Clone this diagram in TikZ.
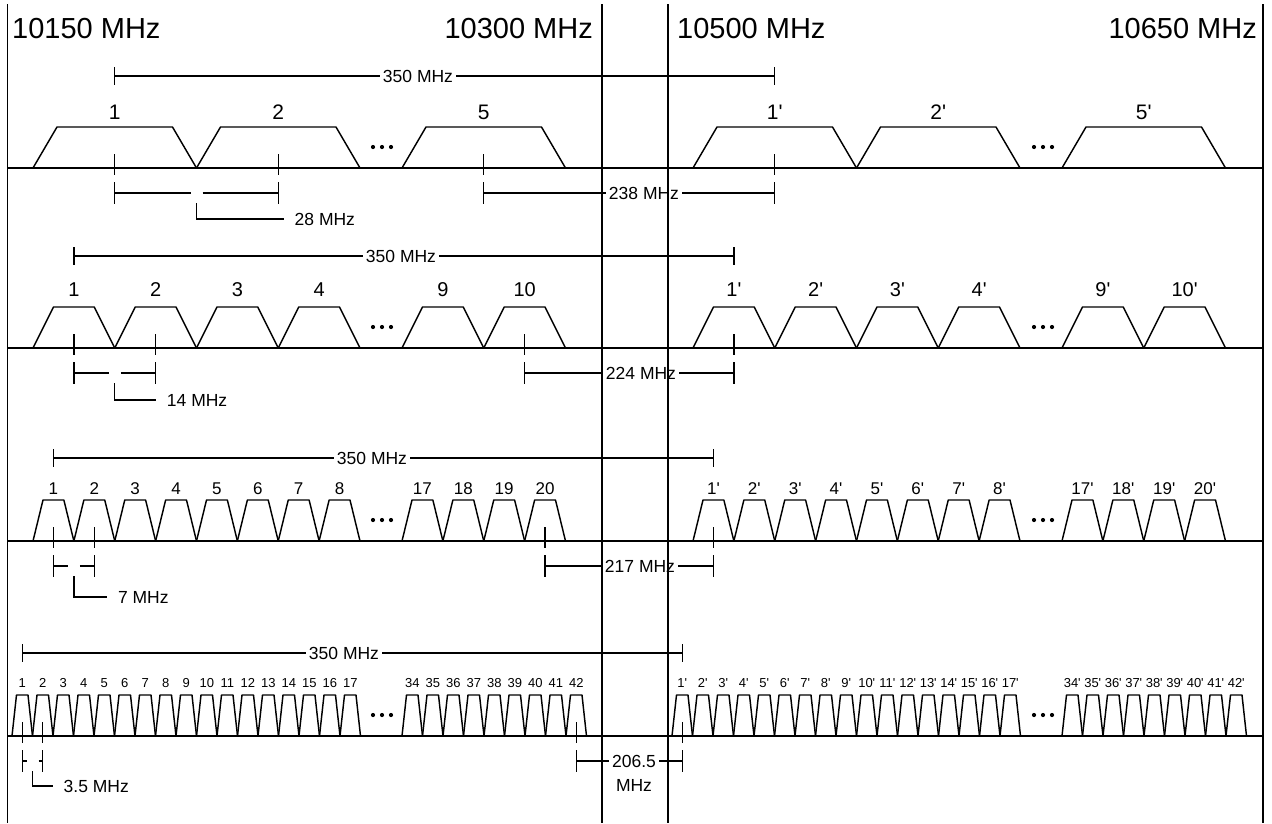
\documentclass[tikz,border=0pt]{standalone}
\usepackage{fontspec}
\setmainfont{Liberation Sans}
\newcommand\pr{\textquotesingle}
\tikzset{
  ln/.style={line width=1.45pt,black},
  chlab/.style={inner sep=0pt},
  dimlab/.style={font=\fontsize{17.5}{19}\selectfont, fill=white, inner sep=3pt},
  freqlab/.style={font=\fontsize{29}{32}\selectfont, inner sep=0pt},
  note/.style={font=\fontsize{17.5}{19}\selectfont, inner sep=0pt, anchor=west},
}
% one channel trapezoid: left x, pitch, inset, baseline
\newcommand\chan[4]{\draw[ln,line join=round] ({#1},{#4}) -- ({#1+#3},{#4-41}) -- ({#1+#2-#3},{#4-41}) -- ({#1+#2},{#4});}
% a band: B, x0, pitch, nA, nB, first label of group B, inset, label font size, label offset
\newcommand\band[9]{%
  \foreach \i in {1,...,#4}{
    \pgfmathsetmacro\l{#2+(\i-1)*#3}
    \pgfmathsetmacro\r{\l+660}
    \chan{\l}{#3}{#7}{#1}
    \chan{\r}{#3}{#7}{#1}
    \node[chlab,font=\fontsize{#8}{#8}\selectfont] (\bid-l\i) at ({\l+#3/2},{#1-#9}) {\i};
    \node[chlab,font=\fontsize{#8}{#8}\selectfont] (\bid-r\i) at ({\r+#3/2},{#1-#9}) {\i\pr};
  }
  \foreach \j in {1,...,#5}{
    \pgfmathsetmacro\l{402+(\j-1)*#3}
    \pgfmathsetmacro\r{\l+660}
    \pgfmathtruncatemacro\n{#6+\j-1}
    \chan{\l}{#3}{#7}{#1}
    \chan{\r}{#3}{#7}{#1}
    \node[chlab,font=\fontsize{#8}{#8}\selectfont] (\bid-bl\n) at ({\l+#3/2},{#1-#9}) {\n};
    \node[chlab,font=\fontsize{#8}{#8}\selectfont] (\bid-br\n) at ({\r+#3/2},{#1-#9}) {\n\pr};
  }
  \foreach \x in {382,1043}{
    \foreach \k in {-9,0,9}{
      \fill ({\x+\k},{#1-21}) circle[radius=2.1pt];
    }
  }
}
% dimensions: B, x0, pitch, nB, upper offset, 350 label x, L label y, L length, L text
\newcommand\dims[9]{%
  \pgfmathsetmacro\ca{#2+#3/2}
  \pgfmathsetmacro\cb{#2+1.5*#3}
  \pgfmathsetmacro\cl{402+(#4-0.5)*#3}
  \pgfmathsetmacro\cp{\ca+660}
  \pgfmathsetmacro\bd{#2+#3}
  \pgfmathsetmacro\U{#1-#5}
  \pgfmathsetmacro\D{#1+25}
  \foreach \x in {\ca,\cb,\cl,\cp}{
    \draw[ln] ({\x},{#1-14}) -- ({\x},{#1+7});
    \draw[ln] ({\x},{#1+14}) -- ({\x},{#1+36});
  }
  \coordinate (\bid-ua) at ({\ca},{\U});
  \coordinate (\bid-ub) at ({\cp},{\U});
  \draw[ln] ({\ca},{\U-9}) -- ({\ca},{\U+9});
  \draw[ln] ({\cp},{\U-9}) -- ({\cp},{\U+9});
  \draw[ln] (\bid-ua) -- (\bid-ub);
  \node[dimlab] (\bid-350) at ({#6},{\U}) {350 MHz};
  \coordinate (\bid-da) at ({\ca},{\D});
  \coordinate (\bid-db) at ({\bd-6},{\D});
  \coordinate (\bid-dc) at ({\bd+6},{\D});
  \coordinate (\bid-dd) at ({\cb},{\D});
  \draw[ln] (\bid-da) -- (\bid-db);
  \draw[ln] (\bid-dc) -- (\bid-dd);
  \coordinate (\bid-ls) at ({\bd},{\D+10});
  \coordinate (\bid-lc) at ({\bd},{#7});
  \coordinate (\bid-le) at ({\bd+#8},{#7});
  \draw[ln] (\bid-ls) -- (\bid-lc) -- (\bid-le);
  \node[note] (\bid-note) at ({\bd+#8+11},{#7}) {#9 MHz};
  \coordinate (\bid-ma) at ({\cl},{\D});
  \coordinate (\bid-mb) at ({\cp},{\D});
  \draw[ln] (\bid-ma) -- (\bid-mb);
}
\begin{document}
\begin{tikzpicture}[x=1pt,y=-1pt]
\useasboundingbox (0,0) rectangle (1272,823);
\fill[white] (0,0) rectangle (1272,823);

% frequency labels
\node[freqlab,anchor=west] (f1) at (12,29) {10150 MHz};
\node[freqlab,anchor=east] (f2) at (593,29) {10300 MHz};
\node[freqlab,anchor=west] (f3) at (677,29) {10500 MHz};
\node[freqlab,anchor=east] (f4) at (1257,29) {10650 MHz};

% baselines
\foreach \b in {168,348,541,736}{
  \draw[ln] (7.5,\b) -- (1263,\b);
}

% band 1: 28 MHz
\def\bid{a}
\band{168}{33}{163.5}{2}{1}{5}{24}{21}{56}
\dims{168}{33}{163.5}{1}{92}{418}{219}{87}{28}
\node[dimlab] (a-mid) at (644,193) {238 MHz};

% band 2: 14 MHz
\def\bid{b}
\band{348}{33}{81.75}{4}{2}{9}{20.5}{20}{58}
\dims{348}{33}{81.75}{2}{92}{401}{400}{41}{14}
\node[dimlab] (b-mid) at (641,373) {224 MHz};

% band 3: 7 MHz
\def\bid{c}
\band{541}{33}{40.875}{8}{4}{17}{10}{17}{52}
\dims{541}{33}{40.875}{4}{83}{372}{597}{33}{7}
\node[dimlab] (c-mid) at (640,566) {217 MHz};

% band 4: 3.5 MHz
\def\bid{d}
\band{736}{12}{20.5}{17}{9}{34}{4.5}{13}{53}
\dims{736}{12}{20.5}{9}{83}{344}{786}{20}{3.5}
\node[dimlab] (d-mid) at (634,761) {206.5};
\node[chlab,font=\fontsize{17.5}{19}\selectfont] (d-mid2) at (634,785) {MHz};

% vertical frame lines
\draw[ln] (7.5,4) -- (7.5,823);
\draw[ln] (602,4) -- (602,823);
\draw[ln] (668,4) -- (668,823);
\draw[ln] (1263,4) -- (1263,823);
\end{tikzpicture}
\end{document}
